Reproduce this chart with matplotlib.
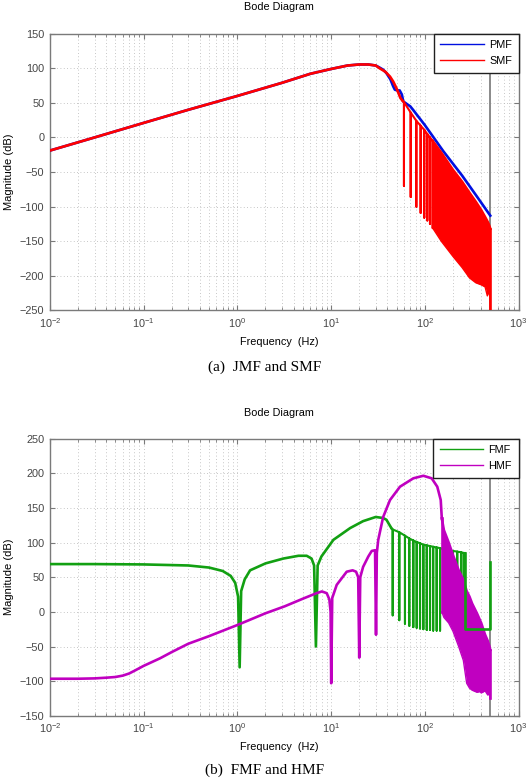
import numpy as np
import matplotlib.pyplot as plt
from matplotlib.lines import Line2D
from matplotlib.ticker import LogLocator, NullFormatter

plt.rcParams["font.family"] = ["Liberation Sans", "DejaVu Sans"]
plt.rcParams["mathtext.fontset"] = "custom"
plt.rcParams["mathtext.rm"] = "Liberation Sans"
plt.rcParams["mathtext.it"] = "Liberation Sans"

# ---- (a) PMF / SMF ----
f_rise = [0.01, 0.03, 0.1, 0.3, 1, 3, 6, 10, 15, 20, 25, 30]
m_rise = [-19, 0, 21, 40, 60, 79, 92, 99, 104, 105.5, 105.5, 104]

f_pmf = [33, 36, 39, 43, 46, 48, 51, 54, 57, 59, 62, 65, 70, 75, 100, 158, 250, 350, 500]
m_pmf = [101, 98, 93, 84, 74, 69, 68, 68, 62, 52, 50, 48, 45, 40, 18, -20, -55, -83, -113]

f_smf = [33, 38, 42.6, 46, 50, 55, 58]
m_smf = [100, 95, 88, 81, 71, 57, 53]
smf_notch_f = [60, 70.8, 81.3, 90.4, 98.8, 106.4, 113.7, 121.5]
smf_notch_top = [51, 36, 24, 17, 11, 5, 0, -5]
smf_notch_depth = [-70, -86, -100, -109, -116, -120, -125, -131]
smf_band_f = [121.5, 150, 200, 250, 300, 350, 400, 440, 465, 480, 495, 500]
smf_band_hi = [-5, -22, -47, -64, -80, -93, -105, -115, -121, -125, -130, -132]
smf_band_lo = [-131, -150, -172, -188, -203, -210, -213, -216, -229, -222, -230, -250]

# ---- (b) FMF / HMF ----
f_fmf = [0.01, 0.03, 0.1, 0.3, 0.5, 0.7, 0.85, 0.95, 1.02, 1.06, 1.1, 1.2, 1.37, 2, 3.1,
         4.5, 5.5, 6.2, 6.6, 6.9, 7.2, 7.9, 10.6, 16, 22, 30, 36, 39, 44]
m_fmf = [69, 69, 68.5, 67, 64, 59, 52, 42, 22, -80, 30, 47, 60, 70, 77,
         81, 81, 77, 67, -50, 67, 80, 104, 121, 131, 137, 135.5, 133, 121]
fmf_notch_f = [45.5, 53.5, 61.5, 68.4, 75.5, 82, 89, 96.6, 105, 113.8, 123, 134, 145.6]
fmf_notch_top = [119, 115, 110, 106, 103, 101, 99, 97, 96, 95, 94, 93, 92]
fmf_notch_depth = [-5, -12, -17, -20, -22, -23, -24, -25, -26, -26, -27, -27, -27]
fmf_tail_notch_f = [180, 200, 222, 245, 262]
fmf_tail_notch_top = [89, 88, 87, 86, 85]
fmf_tail_notch_depth = [30, 28, 27, 27, 27]
f_fmf_end = [268, 268, 500, 500]
m_fmf_end = [85, -25, -25, 72]

f_hmf = [0.01, 0.02, 0.03, 0.04, 0.05, 0.06, 0.07, 0.08, 0.1, 0.15, 0.2, 0.3, 0.5, 1, 2, 3.2, 5, 7,
         8, 9, 9.6, 9.9, 10.05, 10.3, 11.5, 14.7, 17, 18.5, 19.5, 20, 20.5, 22, 25, 27.2, 29.5,
         30.2, 30.8, 31.9, 36, 42.6, 54.4, 75.5, 96.6, 118.6, 136, 148, 152]
m_hmf = [-96.5, -96.5, -96, -95, -94, -92, -89, -85, -78, -67, -58, -46, -35, -19, -2, 8, 19, 27,
         29.5, 27, 18, 0, -103, 20, 39, 58, 60, 58, 50, -66, 50, 65, 80, 88, 89,
         -33, 85, 104, 137, 161.5, 180.7, 192.8, 196.5, 192.8, 180.7, 161.5, 135]
hmf_band_f = [152, 160, 180, 200, 230, 258, 280, 300, 320, 360, 388, 400, 440, 470, 490, 500]
hmf_band_hi = [135, 118, 100, 82, 60, 46, 30, 22, 12, -2, -12, -16, -33, -42, -50, -55]
hmf_band_lo = [0, -8, -16, -28, -50, -70, -103, -110, -113, -116, -115, -117, -114, -120, -118, -125]

nyquist = 500
C_PMF, C_SMF = "#0010e0", "#ff0000"
C_FMF, C_HMF = "#12a012", "#c000c0"
LW = 1.9
LW_TOOTH = 1.5
GRID = dict(color="#b4b4b4", linestyle=(0, (1, 3)), linewidth=0.6)


def teeth(freqs, tops, depths):
    xs, ys = [], []
    for f, t, d in zip(freqs, tops, depths):
        xs += [f, f, f]
        ys += [t, d, t]
    return xs, ys


def style_axes(ax, ylim, yticks):
    ax.set_xscale("log")
    ax.set_xlim(1e-2, 1e3)
    ax.set_ylim(*ylim)
    ax.set_yticks(yticks)
    ax.xaxis.set_major_locator(LogLocator(base=10, numticks=10))
    ax.xaxis.set_minor_locator(LogLocator(base=10, subs=np.arange(2, 10), numticks=20))
    ax.xaxis.set_minor_formatter(NullFormatter())
    ax.grid(True, which="major", **GRID)
    ax.grid(True, which="minor", axis="x", **GRID)
    for s in ax.spines.values():
        s.set_color("#7a7a7a")
        s.set_linewidth(1.0)
    ax.tick_params(which="both", direction="in", top=True, right=True, color="#7a7a7a",
                   labelcolor="#454545", labelsize=7.8, pad=4)
    ax.tick_params(which="major", length=3.5)
    ax.tick_params(which="minor", length=2)
    ax.axvline(nyquist, color="#8a8a8a", linewidth=1.4, zorder=2)


def add_legend(ax, labels, colors):
    handles = [Line2D([], [], color=c, linewidth=1.0) for c in colors]
    leg = ax.legend(handles, labels, loc="upper right", borderaxespad=0, fontsize=7.8,
                    handlelength=4.0, handletextpad=0.5, borderpad=0.6, labelspacing=0.55,
                    fancybox=False, framealpha=1)
    leg.get_frame().set_edgecolor("#202020")
    leg.get_frame().set_linewidth(1.0)
    leg.set_zorder(10)


fig = plt.figure(figsize=(5.28, 7.78), dpi=100)
W, H = 528.0, 778.0

# ---------- top panel ----------
ax1 = fig.add_axes([49.8 / W, 1 - 310.4 / H, 468.7 / W, 276.7 / H])
style_axes(ax1, (-250, 150), np.arange(-250, 151, 50))

ax1.plot(f_rise + f_pmf, m_rise + m_pmf, color=C_PMF, linewidth=LW, zorder=3)
ax1.plot(f_rise + f_smf, m_rise + m_smf, color=C_SMF, linewidth=LW, zorder=4)
tx, ty = teeth(smf_notch_f, smf_notch_top, smf_notch_depth)
ax1.plot([f_smf[-1]] + tx, [m_smf[-1]] + ty, color=C_SMF, linewidth=LW_TOOTH, zorder=4)
ax1.fill_between(smf_band_f, smf_band_lo, smf_band_hi, color=C_SMF, linewidth=0, zorder=4)
ax1.plot(smf_band_f, smf_band_hi, color=C_SMF, linewidth=LW, zorder=4)
ax1.plot(smf_band_f, smf_band_lo, color=C_SMF, linewidth=1.0, zorder=4)
ax1.plot([nyquist, nyquist], [smf_band_hi[-1], -260], color=C_SMF, linewidth=LW, zorder=4)
add_legend(ax1, ["PMF", "SMF"], [C_PMF, C_SMF])

fig.text(279 / W, 1 - 7.4 / H, "Bode Diagram", ha="center", va="center", fontsize=7.8)
fig.text(279 / W, 1 - 341.8 / H, "Frequency  (Hz)", ha="center", va="center", fontsize=7.8)
fig.text(9.4 / W, 1 - 172 / H, "Magnitude (dB)", ha="center", va="center", rotation=90,
         fontsize=8)
fig.text(265 / W, 1 - 367.5 / H, "(a)  JMF and SMF", ha="center", va="center", fontsize=11,
         family="Liberation Serif")

# ---------- bottom panel ----------
ax2 = fig.add_axes([49.8 / W, 1 - 715.8 / H, 468.7 / W, 277.1 / H])
style_axes(ax2, (-150, 250), np.arange(-150, 251, 50))

ax2.plot(f_fmf, m_fmf, color=C_FMF, linewidth=LW, zorder=3)
gx, gy = teeth(fmf_notch_f, fmf_notch_top, fmf_notch_depth)
rx, ry = teeth(fmf_tail_notch_f, fmf_tail_notch_top, fmf_tail_notch_depth)
ax2.plot([f_fmf[-1]] + gx + rx + [f_fmf_end[0]], [m_fmf[-1]] + gy + ry + [m_fmf_end[0]],
         color=C_FMF, linewidth=LW_TOOTH, zorder=3)

ax2.plot(f_hmf, m_hmf, color=C_HMF, linewidth=LW, zorder=4)
ax2.fill_between(hmf_band_f, hmf_band_lo, hmf_band_hi, color=C_HMF, linewidth=0, zorder=4)
ax2.plot(hmf_band_f, hmf_band_hi, color=C_HMF, linewidth=LW, zorder=4)
ax2.plot(hmf_band_f, hmf_band_lo, color=C_HMF, linewidth=1.0, zorder=4)
ax2.plot([hmf_band_f[0], hmf_band_f[0]], [hmf_band_hi[0], hmf_band_lo[0]], color=C_HMF,
         linewidth=LW, zorder=4)
ax2.plot([nyquist, nyquist], [hmf_band_hi[-1], hmf_band_lo[-1]], color=C_HMF, linewidth=LW,
         zorder=4)
ax2.plot(f_fmf_end, m_fmf_end, color=C_FMF, linewidth=LW, zorder=5)
add_legend(ax2, ["FMF", "HMF"], [C_FMF, C_HMF])

fig.text(279 / W, 1 - 412.8 / H, "Bode Diagram", ha="center", va="center", fontsize=7.8)
fig.text(279 / W, 1 - 746.8 / H, "Frequency  (Hz)", ha="center", va="center", fontsize=7.8)
fig.text(9.4 / W, 1 - 577 / H, "Magnitude (dB)", ha="center", va="center", rotation=90,
         fontsize=8)
fig.text(265 / W, 1 - 770.5 / H, "(b)  FMF and HMF", ha="center", va="center", fontsize=11,
         family="Liberation Serif")

fig.savefig("out.png", dpi=100)
